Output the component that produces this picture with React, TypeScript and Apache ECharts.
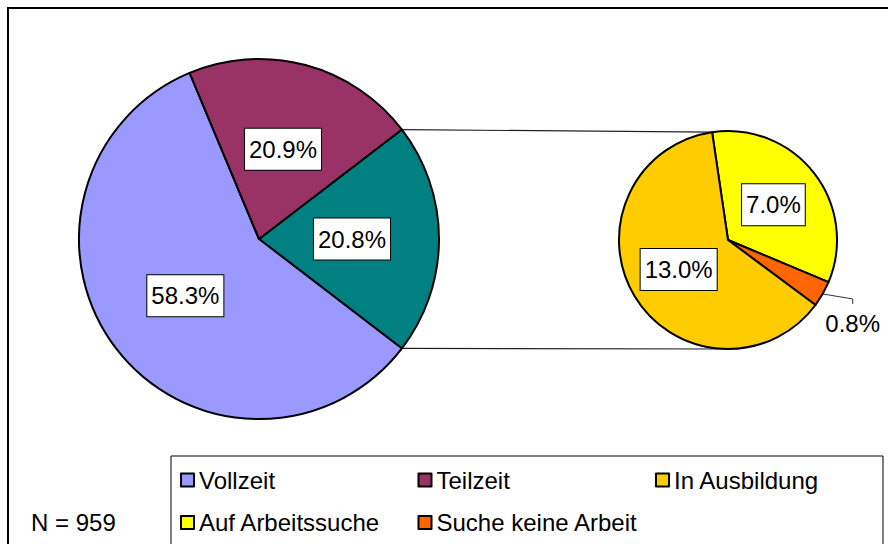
import React, { useEffect, useRef } from 'react';
import * as echarts from 'echarts';

// ---- data ----
const mainNames = ['Sonstige', 'Vollzeit', 'Teilzeit'];
const mainValues = [20.8, 58.3, 20.9];
const mainColors = ['#008080', '#9999FF', '#993366'];

const subNames = ['Auf Arbeitssuche', 'Suche keine Arbeit', 'In Ausbildung'];
const subValues = [7.0, 0.8, 13.0];
const subColors = ['#FFFF00', '#FF6600', '#FFCC00'];

const legendOrder = ['Vollzeit', 'Teilzeit', 'In Ausbildung', 'Auf Arbeitssuche', 'Suche keine Arbeit'];
const noteText = 'N = 959';

// ---- layout (styles, not data) ----
const FONT = '"Liberation Sans", Arial, sans-serif';
const MAIN_C = [259, 239];
const MAIN_R = 180;
const SUB_C = [728, 240];
const SUB_R = 109;
const SUB_START = 98.4;

const rad = (d: number) => (d * Math.PI) / 180;
const pt = (c: number[], r: number, a: number) => [c[0] + r * Math.cos(rad(a)), c[1] - r * Math.sin(rad(a))];

export default function App() {
  const ref = useRef<HTMLDivElement>(null);

  useEffect(() => {
    if (!ref.current) return;
    const chart = echarts.init(ref.current, undefined, { renderer: 'svg' });

    const mainTotal = mainValues.reduce((a, b) => a + b, 0);
    const splitAngle = (mainValues[0] / mainTotal) * 360;
    const mainStart = splitAngle / 2;
    const subTotal = subValues.reduce((a, b) => a + b, 0);

    const p1 = pt(MAIN_C, MAIN_R, mainStart);
    const p2 = pt(MAIN_C, MAIN_R, -mainStart);
    const q1 = pt(SUB_C, SUB_R, SUB_START);
    const q2 = pt(SUB_C, SUB_R, -90);

    // mid angle of the small slice (index 1)
    const smallMid = SUB_START - ((subValues[0] + subValues[1] / 2) / subTotal) * 360;
    const e0 = pt(SUB_C, SUB_R, smallMid);

    const boxLabel = {
      show: true,
      position: 'inside',
      formatter: (p: any) => p.value.toFixed(1) + '%',
      color: '#000',
      fontSize: 24,
      fontFamily: FONT,
      backgroundColor: '#fff',
      borderColor: '#000',
      borderWidth: 1,
      padding: [9, 4, 8, 4],
    };

    const option: any = {
      animation: false,
      backgroundColor: '#fff',
      textStyle: { fontFamily: FONT },
      legend: {
        data: legendOrder,
        left: 171,
        top: 456,
        orient: 'horizontal',
        padding: [12, 9, 10.5, 9],
        itemGap: 18.5,
        itemWidth: 13,
        itemHeight: 13,
        icon: 'rect',
        borderColor: '#000',
        borderWidth: 1,
        backgroundColor: '#fff',
        selectedMode: false,
        itemStyle: { borderColor: '#000', borderWidth: 2 },
        textStyle: {
          fontSize: 24,
          fontFamily: FONT,
          color: '#000',
          width: 200,
          lineHeight: 22,
          overflow: 'none',
        },
      },
      graphic: [
        {
          type: 'rect',
          shape: { x: 8, y: 8, width: 900, height: 600 },
          style: { fill: 'none', stroke: '#000', lineWidth: 2 },
          silent: true,
          z: -10,
        },
        {
          type: 'line',
          shape: { x1: p1[0], y1: p1[1], x2: q1[0], y2: q1[1] },
          style: { stroke: '#222', lineWidth: 1.2 },
          silent: true,
        },
        {
          type: 'line',
          shape: { x1: p2[0], y1: p2[1], x2: q2[0], y2: q2[1] },
          style: { stroke: '#222', lineWidth: 1.2 },
          silent: true,
        },
        {
          type: 'text',
          left: 31,
          top: 510,
          style: { text: noteText, fontSize: 24, fontFamily: FONT, fill: '#000' },
          silent: true,
        },
      ],
      series: [
        {
          type: 'pie',
          center: MAIN_C,
          radius: MAIN_R,
          startAngle: mainStart,
          clockwise: true,
          avoidLabelOverlap: false,
          emphasis: { disabled: true },
          itemStyle: { borderColor: '#000', borderWidth: 2 },
          label: boxLabel,
          labelLine: { show: false },
          data: mainNames.map((n, i) => ({ name: n, value: mainValues[i], itemStyle: { color: mainColors[i] } })),
        },
        {
          type: 'pie',
          center: SUB_C,
          radius: SUB_R,
          startAngle: SUB_START,
          clockwise: true,
          avoidLabelOverlap: false,
          emphasis: { disabled: true },
          itemStyle: { borderColor: '#000', borderWidth: 2 },
          label: boxLabel,
          labelLine: { show: false },
          labelLayout: (params: any) => {
            if (params.dataIndex !== 1) return {};
            return {
              x: e0[0] + 30,
              y: e0[1] + 30,
              align: 'center',
              verticalAlign: 'middle',
              labelLinePoints: [
                [e0[0], e0[1]],
                [e0[0] + 30, e0[1] + 5],
                [e0[0] + 30, e0[1] + 10],
              ],
            };
          },
          data: subNames.map((n, i) => {
            const d: any = { name: n, value: subValues[i], itemStyle: { color: subColors[i] } };
            if (i === 1) {
              d.label = {
                position: 'outside',
                backgroundColor: 'transparent',
                borderWidth: 0,
                padding: 0,
              };
              d.labelLine = { show: true, length: 10, length2: 20, lineStyle: { color: '#333', width: 1 } };
            }
            return d;
          }),
        },
      ],
    };

    chart.setOption(option);
    return () => chart.dispose();
  }, []);

  return (
    <div
      ref={ref}
      style={{ position: 'absolute', left: 0, top: 0, width: 888, height: 544, background: '#fff' }}
    />
  );
}
